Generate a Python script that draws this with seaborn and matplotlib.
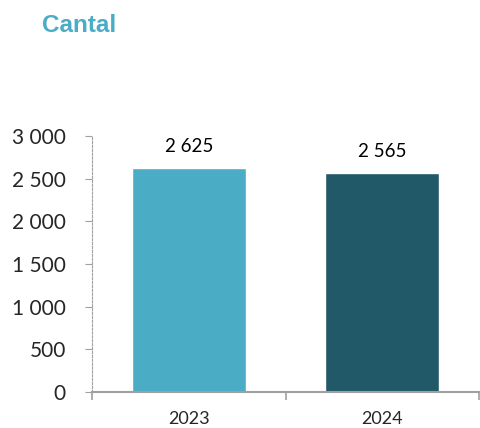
import matplotlib
matplotlib.use("Agg")
import matplotlib.pyplot as plt
import seaborn as sns
import pandas as pd

# data
years = ["2023", "2024"]
values = [2625, 2565]
colors = ["#4BACC6", "#215968"]
title = "Cantal"

df = pd.DataFrame({"year": years, "value": values})

sns.set_style("white")
plt.rcParams["font.family"] = ["Lato", "DejaVu Sans"]

fig = plt.figure(figsize=(4.8, 4.28), dpi=100)
ax = fig.add_axes([0.192, 0.084, 0.806, 0.598])

sns.barplot(data=df, x="year", y="value", hue="year", palette=colors,
            width=0.59, legend=False, ax=ax, saturation=1)

def fmt(v):
    return f"{int(v):,}".replace(",", " ")

for i, v in enumerate(values):
    ax.text(i, v + 150, fmt(v), ha="center", va="bottom", fontsize=13.5, color="black")

ax.set_ylim(0, 3000)
ax.set_xlim(-0.5, 1.5)
ax.set_yticks(range(0, 3001, 500))
ax.set_yticklabels([fmt(t) for t in range(0, 3001, 500)], fontsize=15)
ax.set_xticks([0, 1])
ax.set_xticklabels(years, fontsize=13)
ax.set_xticks([-0.5, 0.5, 1.5], minor=True)
ax.tick_params(axis="x", which="major", bottom=False, pad=10)
ax.tick_params(axis="x", which="minor", bottom=True, length=6, color="#a0a0a0",
               direction="out", width=1.2)
ax.tick_params(axis="y", left=True, length=5, color="#a0a0a0", direction="out",
               width=0.8, pad=14)
for t in ax.yaxis.get_ticklines():
    t.set_linestyle((0, (2, 1)))
ax.set_xlabel("")
ax.set_ylabel("")

for s in ["top", "right"]:
    ax.spines[s].set_visible(False)
ax.spines["left"].set_color("#a0a0a0")
ax.spines["left"].set_linestyle((0, (2, 1.5)))
ax.spines["left"].set_linewidth(0.8)
ax.spines["bottom"].set_color("#a0a0a0")
ax.spines["bottom"].set_linewidth(1.5)

fig.text(0.088, 0.94, title, fontsize=17.5, fontweight="bold", color="#4BACC6",
         family=["Liberation Sans", "DejaVu Sans"], va="center", ha="left")

fig.savefig("out.png", dpi=100)
